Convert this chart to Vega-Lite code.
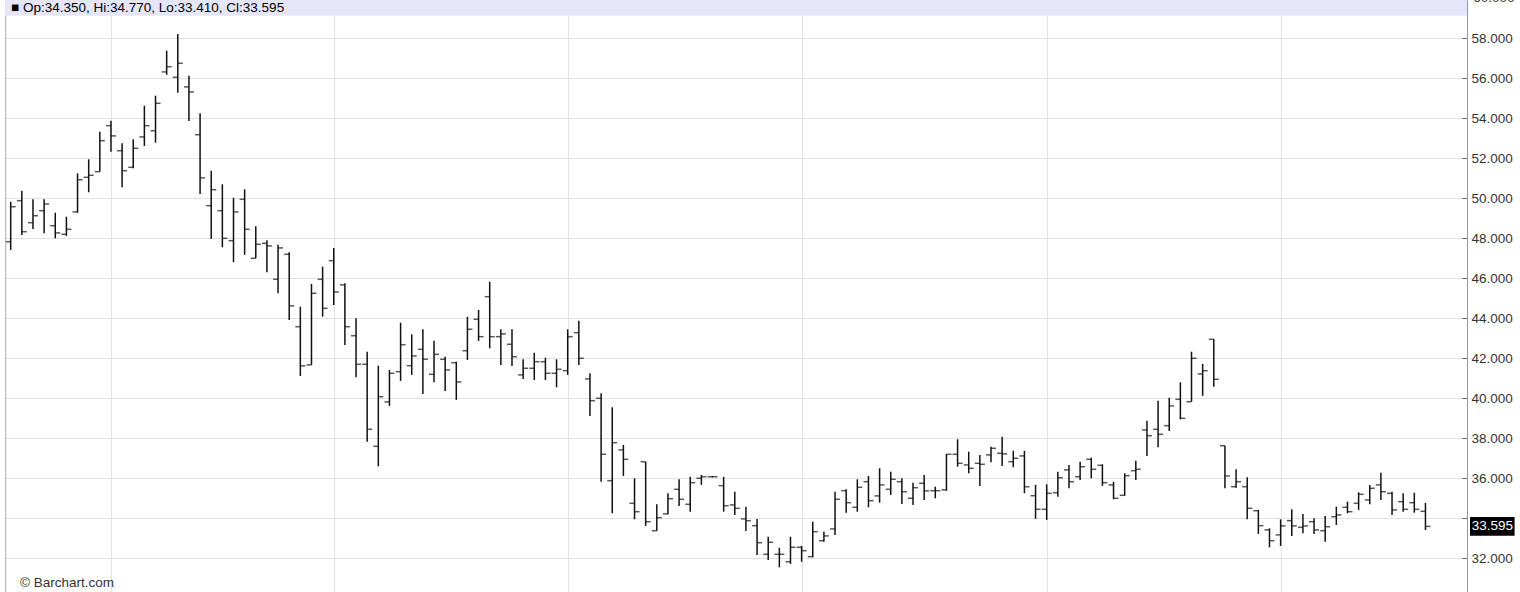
{
  "$schema": "https://vega.github.io/schema/vega-lite/v6.json",
  "width": 1462,
  "height": 592,
  "autosize": {"type": "none"},
  "padding": {"left": 5, "right": 53, "top": 0, "bottom": 0},
  "background": "white",
  "config": {"view": {"stroke": null}, "font": "Liberation Sans"},
  "datasets": {"bars": [
    {"i":0,"o":47.83,"h":49.83,"l":47.42,"c":49.58},
    {"i":1,"o":49.88,"h":50.38,"l":48.17,"c":48.33},
    {"i":2,"o":48.78,"h":49.95,"l":48.47,"c":49.13},
    {"i":3,"o":49.38,"h":49.95,"l":48.25,"c":49.72},
    {"i":4,"o":48.63,"h":49.28,"l":48.0,"c":48.27},
    {"i":5,"o":48.2,"h":49.08,"l":48.12,"c":48.45},
    {"i":6,"o":49.32,"h":51.25,"l":49.28,"c":50.93},
    {"i":7,"o":51.05,"h":51.95,"l":50.3,"c":51.15},
    {"i":8,"o":51.33,"h":53.33,"l":51.33,"c":52.88},
    {"i":9,"o":53.63,"h":53.88,"l":52.33,"c":53.12},
    {"i":10,"o":52.38,"h":52.75,"l":50.55,"c":51.38},
    {"i":11,"o":51.55,"h":52.95,"l":51.5,"c":52.5},
    {"i":12,"o":53.07,"h":54.63,"l":52.62,"c":53.63},
    {"i":13,"o":53.38,"h":55.13,"l":52.78,"c":54.75},
    {"i":14,"o":56.32,"h":57.38,"l":56.17,"c":56.58},
    {"i":15,"o":56.05,"h":58.22,"l":55.28,"c":56.75},
    {"i":16,"o":55.57,"h":56.13,"l":53.87,"c":55.32},
    {"i":17,"o":53.18,"h":54.25,"l":50.22,"c":51.02},
    {"i":18,"o":49.63,"h":51.38,"l":47.97,"c":50.43},
    {"i":19,"o":49.38,"h":50.7,"l":47.55,"c":48.0},
    {"i":20,"o":47.88,"h":50.03,"l":46.8,"c":49.32},
    {"i":21,"o":49.95,"h":50.45,"l":47.17,"c":48.45},
    {"i":22,"o":47.0,"h":48.6,"l":47.0,"c":47.7},
    {"i":23,"o":47.75,"h":47.9,"l":46.3,"c":47.62},
    {"i":24,"o":45.95,"h":47.68,"l":45.25,"c":47.52},
    {"i":25,"o":47.2,"h":47.3,"l":43.92,"c":44.62},
    {"i":26,"o":43.58,"h":44.58,"l":41.12,"c":41.62},
    {"i":27,"o":41.67,"h":45.72,"l":41.67,"c":45.25},
    {"i":28,"o":45.95,"h":46.58,"l":44.08,"c":44.5},
    {"i":29,"o":46.88,"h":47.52,"l":44.67,"c":45.32},
    {"i":30,"o":45.67,"h":45.75,"l":42.67,"c":43.58},
    {"i":31,"o":43.13,"h":44.0,"l":41.05,"c":41.7},
    {"i":32,"o":41.7,"h":42.33,"l":37.83,"c":38.45},
    {"i":33,"o":37.6,"h":41.63,"l":36.6,"c":40.08},
    {"i":34,"o":39.82,"h":41.42,"l":39.62,"c":41.25},
    {"i":35,"o":41.33,"h":43.78,"l":40.87,"c":42.68},
    {"i":36,"o":41.63,"h":43.2,"l":41.17,"c":42.12},
    {"i":37,"o":42.45,"h":43.45,"l":40.22,"c":41.95},
    {"i":38,"o":41.2,"h":42.88,"l":40.8,"c":42.2},
    {"i":39,"o":41.95,"h":42.08,"l":40.37,"c":41.42},
    {"i":40,"o":41.78,"h":41.83,"l":39.92,"c":40.82},
    {"i":41,"o":42.38,"h":44.08,"l":41.92,"c":43.45},
    {"i":42,"o":43.95,"h":44.42,"l":42.87,"c":43.08},
    {"i":43,"o":45.08,"h":45.83,"l":42.5,"c":43.08},
    {"i":44,"o":43.08,"h":43.45,"l":41.67,"c":43.22},
    {"i":45,"o":42.7,"h":43.45,"l":41.62,"c":42.08},
    {"i":46,"o":41.17,"h":41.95,"l":40.97,"c":41.5},
    {"i":47,"o":41.5,"h":42.28,"l":40.92,"c":41.83},
    {"i":48,"o":41.83,"h":42.03,"l":40.92,"c":41.25},
    {"i":49,"o":41.25,"h":41.95,"l":40.55,"c":41.45},
    {"i":50,"o":41.38,"h":43.45,"l":41.17,"c":43.08},
    {"i":51,"o":43.28,"h":43.88,"l":41.67,"c":42.0},
    {"i":52,"o":40.97,"h":41.25,"l":39.12,"c":39.88},
    {"i":53,"o":40.0,"h":40.25,"l":35.83,"c":37.2},
    {"i":54,"o":35.88,"h":39.55,"l":34.25,"c":37.78},
    {"i":55,"o":37.42,"h":37.67,"l":36.12,"c":36.95},
    {"i":56,"o":34.75,"h":36.0,"l":33.95,"c":34.33},
    {"i":57,"o":36.83,"h":36.83,"l":33.62,"c":33.83},
    {"i":58,"o":33.38,"h":34.7,"l":33.38,"c":34.03},
    {"i":59,"o":34.22,"h":35.25,"l":34.2,"c":34.98},
    {"i":60,"o":35.45,"h":35.95,"l":34.62,"c":34.95},
    {"i":61,"o":34.7,"h":36.08,"l":34.33,"c":35.78},
    {"i":62,"o":36.0,"h":36.17,"l":35.67,"c":36.08},
    {"i":63,"o":36.08,"h":36.12,"l":36.05,"c":36.08},
    {"i":64,"o":35.63,"h":36.08,"l":34.33,"c":34.63},
    {"i":65,"o":34.67,"h":35.33,"l":34.17,"c":34.5},
    {"i":66,"o":33.97,"h":34.58,"l":33.37,"c":33.88},
    {"i":67,"o":33.63,"h":33.97,"l":32.17,"c":32.78},
    {"i":68,"o":32.2,"h":33.08,"l":31.92,"c":32.8},
    {"i":69,"o":32.2,"h":32.53,"l":31.55,"c":32.2},
    {"i":70,"o":31.83,"h":33.08,"l":31.72,"c":32.55},
    {"i":71,"o":32.55,"h":32.62,"l":31.83,"c":32.38},
    {"i":72,"o":32.08,"h":33.83,"l":32.05,"c":33.33},
    {"i":73,"o":32.88,"h":33.33,"l":32.83,"c":33.12},
    {"i":74,"o":33.47,"h":35.33,"l":33.17,"c":34.95},
    {"i":75,"o":35.38,"h":35.45,"l":34.28,"c":34.78},
    {"i":76,"o":34.55,"h":35.95,"l":34.33,"c":35.55},
    {"i":77,"o":35.83,"h":36.12,"l":34.55,"c":34.88},
    {"i":78,"o":35.12,"h":36.5,"l":34.78,"c":35.67},
    {"i":79,"o":35.45,"h":36.33,"l":35.17,"c":35.95},
    {"i":80,"o":35.83,"h":36.0,"l":34.72,"c":35.33},
    {"i":81,"o":35.0,"h":35.78,"l":34.67,"c":35.53},
    {"i":82,"o":35.75,"h":36.17,"l":34.92,"c":35.37},
    {"i":83,"o":35.38,"h":35.58,"l":35.0,"c":35.38},
    {"i":84,"o":35.42,"h":37.22,"l":35.38,"c":37.2},
    {"i":85,"o":37.2,"h":37.95,"l":36.58,"c":36.75},
    {"i":86,"o":36.67,"h":37.33,"l":36.25,"c":36.5},
    {"i":87,"o":36.75,"h":37.17,"l":35.62,"c":36.7},
    {"i":88,"o":37.17,"h":37.58,"l":36.8,"c":37.5},
    {"i":89,"o":37.25,"h":38.08,"l":36.62,"c":37.22},
    {"i":90,"o":36.83,"h":37.38,"l":36.55,"c":37.0},
    {"i":91,"o":37.12,"h":37.37,"l":35.25,"c":35.58},
    {"i":92,"o":35.13,"h":35.67,"l":33.97,"c":34.45},
    {"i":93,"o":34.45,"h":35.7,"l":33.92,"c":35.25},
    {"i":94,"o":35.28,"h":36.33,"l":35.08,"c":36.03},
    {"i":95,"o":36.42,"h":36.67,"l":35.5,"c":35.83},
    {"i":96,"o":36.08,"h":36.83,"l":35.92,"c":36.58},
    {"i":97,"o":36.95,"h":37.03,"l":36.0,"c":36.45},
    {"i":98,"o":36.65,"h":36.7,"l":35.62,"c":35.78},
    {"i":99,"o":35.67,"h":35.83,"l":34.95,"c":35.0},
    {"i":100,"o":35.15,"h":36.25,"l":35.13,"c":36.13},
    {"i":101,"o":36.38,"h":36.88,"l":35.92,"c":36.45},
    {"i":102,"o":38.42,"h":38.88,"l":37.12,"c":38.13},
    {"i":103,"o":38.45,"h":39.88,"l":37.55,"c":38.2},
    {"i":104,"o":38.63,"h":40.03,"l":38.37,"c":39.62},
    {"i":105,"o":39.95,"h":40.8,"l":38.95,"c":39.0},
    {"i":106,"o":39.83,"h":42.33,"l":39.83,"c":42.0},
    {"i":107,"o":41.22,"h":41.72,"l":40.12,"c":41.38},
    {"i":108,"o":42.95,"h":42.95,"l":40.58,"c":40.95},
    {"i":109,"o":37.63,"h":37.63,"l":35.5,"c":36.12},
    {"i":110,"o":35.58,"h":36.45,"l":35.53,"c":35.83},
    {"i":111,"o":35.58,"h":36.05,"l":33.95,"c":34.5},
    {"i":112,"o":34.38,"h":34.42,"l":33.22,"c":33.63},
    {"i":113,"o":33.42,"h":33.5,"l":32.55,"c":32.88},
    {"i":114,"o":33.17,"h":33.95,"l":32.62,"c":33.62},
    {"i":115,"o":33.88,"h":34.45,"l":33.12,"c":33.62},
    {"i":116,"o":33.55,"h":34.22,"l":33.25,"c":33.62},
    {"i":117,"o":33.83,"h":34.0,"l":33.22,"c":33.42},
    {"i":118,"o":33.38,"h":34.12,"l":32.83,"c":33.58},
    {"i":119,"o":34.08,"h":34.58,"l":33.67,"c":34.17},
    {"i":120,"o":34.55,"h":34.83,"l":34.25,"c":34.33},
    {"i":121,"o":34.75,"h":35.3,"l":34.42,"c":35.2},
    {"i":122,"o":34.92,"h":35.67,"l":34.7,"c":35.5},
    {"i":123,"o":35.67,"h":36.28,"l":34.92,"c":35.33},
    {"i":124,"o":35.25,"h":35.33,"l":34.17,"c":34.42},
    {"i":125,"o":34.83,"h":35.25,"l":34.33,"c":34.45},
    {"i":126,"o":34.78,"h":35.28,"l":34.28,"c":34.45},
    {"i":127,"o":34.35,"h":34.77,"l":33.41,"c":33.595}
  ],
  "one": [{"k": 1}]},
  "data": {"name": "bars"},
  "layer": [
    {
      "mark": {"type": "rule", "color": "#111111", "strokeWidth": 1.5},
      "encoding": {
        "x": {"field": "i", "type": "quantitative",
              "scale": {"domain": [-0.512, 130.73], "nice": false, "zero": false},
              "axis": {"values": [9, 29, 50, 71, 93, 114], "labels": false, "ticks": false, "domain": false, "grid": true, "gridColor": "#e2e2e2", "gridWidth": 1, "title": null}},
        "y": {"field": "l", "type": "quantitative",
              "scale": {"domain": [30.315, 59.915], "nice": false, "zero": false},
              "axis": {"orient": "right", "values": [32, 34, 36, 38, 40, 42, 44, 46, 48, 50, 52, 54, 56, 58], "format": ".3f", "labelExpr": "datum.value == 34 ? '' : datum.label", "grid": true, "gridColor": "#e2e2e2", "gridWidth": 1, "domainColor": "#999999", "tickColor": "#666666", "tickSize": -5, "labelPadding": 9, "labelFontSize": 13.5, "labelColor": "#333333", "labelFont": "Liberation Sans", "labelFontWeight": "normal", "title": null}},
        "y2": {"field": "h"}
      }
    },
    {
      "mark": {"type": "tick", "orient": "horizontal", "size": 5, "thickness": 1.5, "xOffset": -2.5, "color": "#111111"},
      "encoding": {
        "x": {"field": "i", "type": "quantitative"},
        "y": {"field": "o", "type": "quantitative"}
      }
    },
    {
      "mark": {"type": "tick", "orient": "horizontal", "size": 5, "thickness": 1.5, "xOffset": 2.5, "color": "#111111"},
      "encoding": {
        "x": {"field": "i", "type": "quantitative"},
        "y": {"field": "c", "type": "quantitative"}
      }
    },
    {
      "data": {"name": "one"},
      "mark": {"type": "rule", "color": "#aaaaaa", "strokeWidth": 1},
      "encoding": {
        "x": {"datum": -0.45, "type": "quantitative"}
      }
    },
    {
      "data": {"name": "one"},
      "mark": {"type": "rect", "color": "#e6e6fa"},
      "encoding": {
        "x": {"datum": -0.512, "type": "quantitative"},
        "x2": {"datum": 130.73},
        "y": {"datum": 59.915, "type": "quantitative"},
        "y2": {"datum": 59.13}
      }
    },
    {
      "data": {"name": "one"},
      "mark": {"type": "text", "align": "left", "baseline": "middle", "fontSize": 13.5, "fontWeight": "normal", "fill": "#000000", "font": "Liberation Sans"},
      "encoding": {
        "x": {"datum": 0.03, "type": "quantitative"},
        "y": {"datum": 59.5, "type": "quantitative"},
        "text": {"value": "■ Op:34.350, Hi:34.770, Lo:33.410, Cl:33.595"}
      }
    },
    {
      "data": {"name": "one"},
      "mark": {"type": "text", "align": "left", "baseline": "middle", "fontSize": 13.5, "fontWeight": "normal", "fill": "#333333", "font": "Liberation Sans"},
      "encoding": {
        "x": {"datum": 0.83, "type": "quantitative"},
        "y": {"datum": 30.77, "type": "quantitative"},
        "text": {"value": "© Barchart.com"}
      }
    },
    {
      "data": {"name": "one"},
      "mark": {"type": "text", "align": "left", "baseline": "middle", "fontSize": 13.5, "fontWeight": "normal", "fill": "#333333", "font": "Liberation Sans"},
      "encoding": {
        "x": {"datum": 131.3, "type": "quantitative"},
        "y": {"datum": 60.0, "type": "quantitative"},
        "text": {"value": "60.000"}
      }
    },
    {
      "data": {"name": "one"},
      "mark": {"type": "rect", "color": "#000000"},
      "encoding": {
        "x": {"datum": 131.0, "type": "quantitative"},
        "x2": {"datum": 135.0},
        "y": {"datum": 33.13, "type": "quantitative"},
        "y2": {"datum": 34.07}
      }
    },
    {
      "transform": [{"filter": "datum.i == 127"}],
      "mark": {"type": "text", "align": "center", "baseline": "middle", "fontSize": 13.5, "fontWeight": "normal", "fill": "#ffffff", "font": "Liberation Sans"},
      "encoding": {
        "x": {"datum": 133.0, "type": "quantitative"},
        "y": {"field": "c", "type": "quantitative"},
        "text": {"field": "c", "type": "quantitative", "format": ".3f"}
      }
    }
  ]
}
